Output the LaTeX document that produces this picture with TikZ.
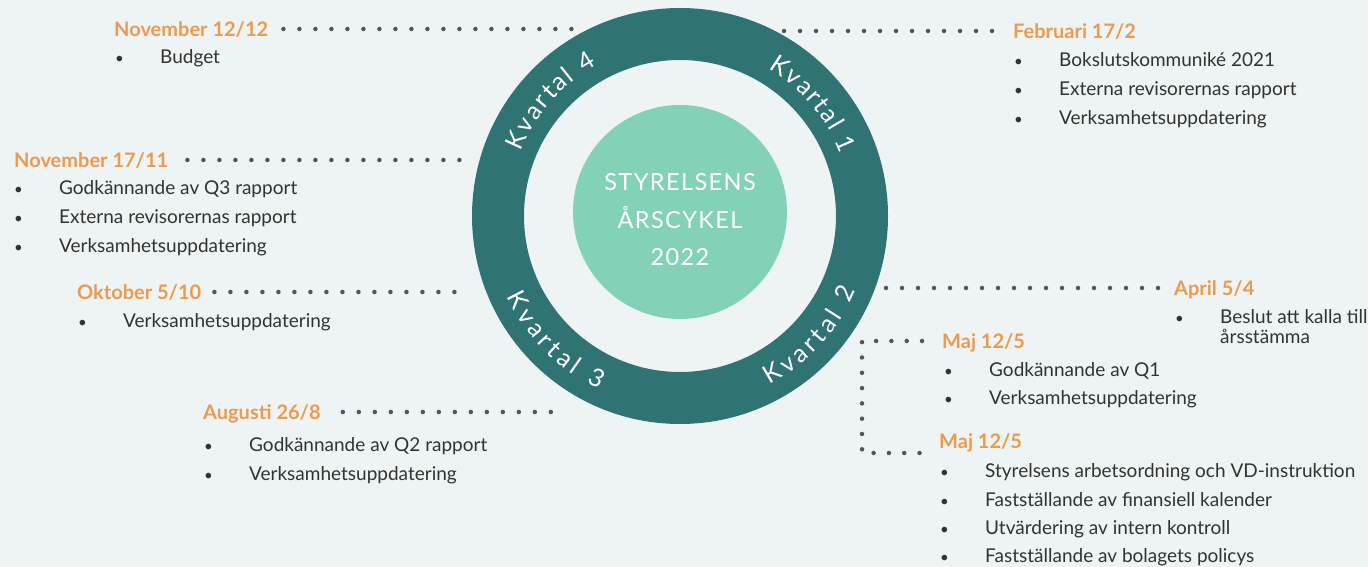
\documentclass[tikz,border=0pt]{standalone}
\usepackage{fontspec}
\setmainfont{Lato}
\usetikzlibrary{decorations.text}

\definecolor{bgpale}{RGB}{238,244,244}
\definecolor{ringteal}{RGB}{47,115,114}
\definecolor{discgreen}{RGB}{131,209,183}
\definecolor{dateorange}{RGB}{235,154,80}
\definecolor{bodygray}{RGB}{50,50,50}
\definecolor{dotgray}{RGB}{85,85,85}

\newcommand{\itm}[1]{\makebox[45pt][l]{\fontsize{15}{15}\selectfont\textbullet}#1}
\newcommand{\kvfont}{\fontsize{25}{25}\selectfont}

\begin{document}
\begin{tikzpicture}[x=1pt, y=1pt,
    datehead/.style={anchor=west, inner sep=0pt, text height=14.5pt, text depth=0pt,
      font=\fontsize{20}{24}\selectfont\bfseries, text=dateorange},
    item/.style={anchor=base west, inner sep=0pt, font=\fontsize{19}{23}\selectfont, text=bodygray},
    leader/.style={draw=dotgray, line width=4.5pt, line cap=round, dash pattern=on 0pt off 16pt},
    kvartal/.style={decorate, decoration={text along path, text align=fit to path, text={|\kvfont\color{white}|#1}}}]
      \fill[bgpale] (0,0) rectangle (1368,567);
      %
      \coordinate (ctr) at (680,351);
      \draw[ringteal, line width=52pt] (ctr) circle[radius=182];
      \node[circle, fill=discgreen, minimum size=214pt, inner sep=0pt] (disc) at (680,355) {};
      \node[align=center, text=white, font=\fontsize{23.5}{37.5}\selectfont\addfontfeature{LetterSpace=6}] (title) at (680,347) {STYRELSENS\\ÅRSCYKEL\\2022};
      %
      \path[kvartal={Kvartal 1}] ([shift={(59:172)}]ctr) arc[start angle=59, end angle=21, radius=172];
      \path[kvartal={Kvartal 4}] ([shift={(158:172)}]ctr) arc[start angle=158, end angle=119, radius=172];
      \path[kvartal={Kvartal 3}] ([shift={(205:191)}]ctr) arc[start angle=205, end angle=245, radius=191];
      \path[kvartal={Kvartal 2}] ([shift={(298:191)}]ctr) arc[start angle=298, end angle=337, radius=191];
      %
      \coordinate (q4a) at (576,538);
      \coordinate (q4b) at (468,407);
      \coordinate (q3a) at (458,275);
      \coordinate (q3b) at (558,155);
      \coordinate (q1a) at (784,536);
      \coordinate (q2a) at (886,279);
      \coordinate (m1) at (862,226);
      \coordinate (m2) at (862,114);
      \coordinate (m3) at (920,114);
      %
      \node[datehead] (nov12) at (114,538) {November 12/12};
      \node[item] (b1) at (115,503) {\itm{Budget}};
      \draw[leader, shorten <=15pt] (nov12.east) -- (q4a);
      %
      \node[datehead] (nov17) at (14,407) {November 17/11};
      \node[item] (n1) at (14,372) {\itm{Godkännande av Q3 rapport}};
      \node[item] (n2) at (14,343) {\itm{Externa revisorernas rapport}};
      \node[item] (n3) at (14,314) {\itm{Verksamhetsuppdatering}};
      \draw[leader, shorten <=19pt] (nov17.east) -- (q4b);
      %
      \node[datehead] (okt) at (77,275) {Oktober 5/10};
      \node[item] (o1) at (78,239) {\itm{Verksamhetsuppdatering}};
      \draw[leader, shorten <=13pt] (okt.east) -- (q3a);
      %
      \node[datehead] (aug) at (203,155) {Augusti 26/8};
      \node[item] (g1) at (204,115) {\itm{Godkännande av Q2 rapport}};
      \node[item] (g2) at (204,86) {\itm{Verksamhetsuppdatering}};
      \draw[leader, shorten <=22pt] (aug.east) -- (q3b);
      %
      \node[datehead] (feb) at (1013,536) {Februari 17/2};
      \node[item] (f1) at (1014,500) {\itm{Bokslutskommuniké 2021}};
      \node[item] (f2) at (1014,471) {\itm{Externa revisorernas rapport}};
      \node[item] (f3) at (1014,442) {\itm{Verksamhetsuppdatering}};
      \draw[leader, shorten >=18pt] (q1a) -- (feb.west);
      %
      \node[datehead] (apr) at (1174,279) {April 5/4};
      \node[item] (a1) at (1175,243) {\itm{Beslut att kalla till}};
      \node[item] (a2) at (1220,223) {årsstämma};
      \draw[leader, shorten >=9pt] (q2a) -- (apr.west);
      %
      \node[datehead] (maj1) at (942,226) {Maj 12/5};
      \node[item] (j1) at (944,190) {\itm{Godkännande av Q1}};
      \node[item] (j2) at (944,162) {\itm{Verksamhetsuppdatering}};
      %
      \node[datehead] (maj2) at (939,126) {Maj 12/5};
      \node[item] (k1) at (940,89) {\itm{Styrelsens arbetsordning och VD-instruktion}};
      \node[item] (k2) at (940,60) {\itm{Fastställande av finansiell kalender}};
      \node[item] (k3) at (940,32) {\itm{Utvärdering av intern kontroll}};
      \node[item] (k4) at (940,4) {\itm{Fastställande av bolagets policys}};
      \draw[leader, dash pattern=on 0pt off 15.3pt, shorten <=20pt] (maj1.west) -- (m1) -- (m2) -- (m3);
    \end{tikzpicture}
\end{document}
